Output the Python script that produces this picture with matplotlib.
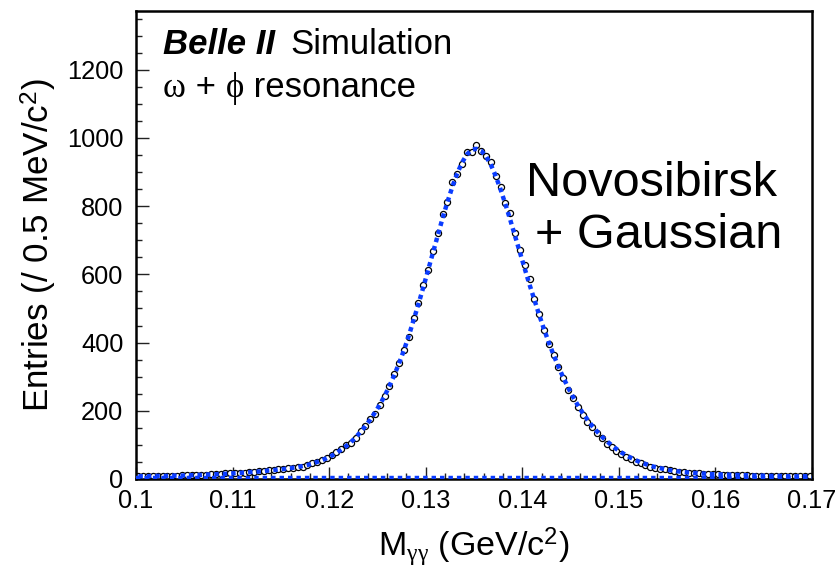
import numpy as np
import matplotlib
matplotlib.use("Agg")
import matplotlib.pyplot as plt
from matplotlib.offsetbox import TextArea, HPacker, AnchoredOffsetbox

plt.rcParams['font.family'] = ['Liberation Sans', 'DejaVu Sans']
plt.rcParams['mathtext.fontset'] = 'custom'
plt.rcParams['mathtext.rm'] = 'Liberation Sans'
plt.rcParams['mathtext.it'] = 'Liberation Serif'
plt.rcParams['mathtext.sf'] = 'Liberation Sans'

# ---- data ----
x_min, x_max, bin_width = 0.10, 0.17, 0.0005
entries = [
    8, 8, 9, 8, 9, 9, 10, 9, 10, 11, 11, 12, 12, 13, 13, 14, 15, 15, 17, 17,
    17, 18, 19, 20, 21, 22, 23, 25, 26, 28, 29, 31, 33, 34, 36, 41, 46, 51, 57, 62,
    70, 79, 88, 99, 107, 120, 140, 155, 175, 192, 217, 244, 273, 307, 341, 378, 417, 472, 517, 570,
    612, 668, 720, 776, 812, 870, 895, 924, 958, 960, 978, 961, 946, 929, 888, 856, 809, 779, 721, 672,
    627, 585, 529, 485, 436, 397, 363, 329, 295, 261, 236, 212, 187, 168, 153, 134, 119, 104, 95, 83,
    73, 65, 58, 51, 46, 41, 36, 33, 30, 28, 26, 23, 21, 20, 19, 18, 17, 16, 15, 15,
    14, 13, 13, 12, 12, 11, 11, 10, 10, 10, 9, 9, 9, 9, 8, 8, 8, 8, 8, 8,
]
fit_total = [
    8, 8, 8, 9, 9, 9, 9, 10, 10, 10, 11, 11, 12, 12, 13, 13, 14, 15, 15, 16,
    17, 18, 19, 20, 21, 22, 23, 25, 26, 28, 29, 31, 33, 35, 38, 41, 45, 50, 55, 61,
    68, 76, 86, 96, 108, 122, 138, 155, 174, 195, 218, 244, 273, 305, 340, 378, 420, 466, 513, 562,
    613, 664, 715, 765, 812, 856, 895, 927, 951, 965, 968, 962, 946, 921, 888, 849, 806, 760, 712, 665,
    617, 570, 525, 481, 439, 400, 363, 329, 297, 268, 241, 216, 194, 174, 155, 139, 124, 111, 99, 88,
    78, 70, 62, 55, 49, 44, 39, 35, 32, 29, 26, 24, 22, 20, 19, 18, 17, 16, 15, 14,
    14, 13, 13, 12, 12, 11, 11, 10, 10, 10, 9, 9, 9, 9, 8, 8, 8, 8, 8, 8,
]
bkg_x = [0.10, 0.17]
bkg_y = [3, 3]
x_ticks = [0.10, 0.11, 0.12, 0.13, 0.14, 0.15, 0.16, 0.17]
x_ticklabels = ['0.1', '0.11', '0.12', '0.13', '0.14', '0.15', '0.16', '0.17']
y_ticks = [0, 200, 400, 600, 800, 1000, 1200]

centers = x_min + bin_width * (np.arange(len(entries)) + 0.5)

fig = plt.figure(figsize=(8.37, 5.68), dpi=100)
ax = fig.add_axes([136/837, 1 - 479/568, (812 - 136)/837, (479 - 11)/568])

blue = '#0a3cff'
ax.plot(centers, entries, linestyle='none', marker='o', ms=4.4, mfc='white',
        mec='black', mew=0.9, zorder=2)
ax.plot(centers, fit_total, color=blue, lw=3.2, linestyle=(0, (1, 0.9)),
        dash_capstyle='butt', zorder=3)
ax.plot(bkg_x, bkg_y, color=blue, lw=3.2, linestyle=(0, (1, 0.9)),
        dash_capstyle='butt', zorder=3)

ax.set_xlim(x_min, x_max)
ax.set_ylim(0, 1372)
ax.set_xticks(x_ticks)
ax.set_xticklabels(x_ticklabels)
ax.set_yticks(y_ticks)
ax.set_xticks(np.arange(0.10, 0.1701, 0.002), minor=True)
ax.set_yticks(np.arange(0, 1351, 50), minor=True)
ax.tick_params(axis='both', which='both', direction='in', top=False, right=False,
               labelsize=18.3, width=1.0, color='#222222')
ax.tick_params(axis='both', which='major', length=9)
ax.tick_params(axis='both', which='minor', length=4.5)
ax.tick_params(axis='x', which='major', pad=7)
ax.tick_params(axis='y', which='major', pad=9)
for s in ax.spines.values():
    s.set_linewidth(1.8)

ax.set_xlabel(r'M$_{\gamma\gamma}$ (GeV/c$^{2}$)', fontsize=24.5, labelpad=9)
ax.set_ylabel(r'Entries (/ 0.5 MeV/c$^{2}$)', fontsize=25.2, labelpad=6)

fs = 25
line1 = HPacker(children=[
    TextArea('Belle II', textprops=dict(fontsize=fs, fontweight='bold', fontstyle='italic')),
    TextArea('Simulation', textprops=dict(fontsize=fs)),
], align='baseline', pad=0, sep=11)
ab1 = AnchoredOffsetbox(loc='upper left', child=line1, pad=0, frameon=False,
                        bbox_to_anchor=(163/837, 1 - 28/568), bbox_transform=fig.transFigure,
                        borderpad=0)
fig.add_artist(ab1)

line2 = HPacker(children=[
    TextArea('ω', textprops=dict(fontsize=fs, family='Liberation Serif')),
    TextArea(' + ', textprops=dict(fontsize=fs)),
    TextArea('ϕ', textprops=dict(fontsize=fs, family='Liberation Serif')),
    TextArea(' resonance', textprops=dict(fontsize=fs)),
], align='baseline', pad=0, sep=0)
ab2 = AnchoredOffsetbox(loc='upper left', child=line2, pad=0, frameon=False,
                        bbox_to_anchor=(163/837, 1 - 71/568), bbox_transform=fig.transFigure,
                        borderpad=0)
fig.add_artist(ab2)

fig.text(652/837, 1 - 184/568, 'Novosibirsk', fontsize=35, ha='center', va='center')
fig.text(659/837, 1 - 235/568, '+ Gaussian', fontsize=35, ha='center', va='center')

fig.savefig('out.png', dpi=100)
